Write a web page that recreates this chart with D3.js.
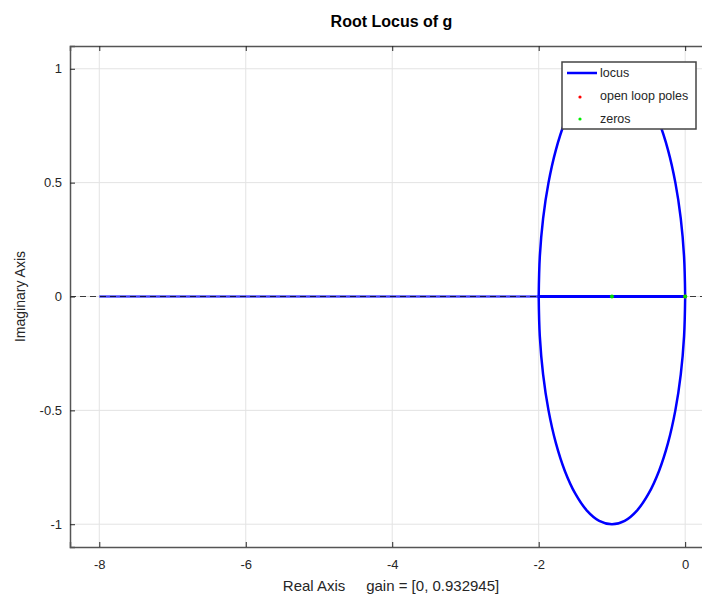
<!DOCTYPE html>
<html>
<head>
<meta charset="utf-8">
<script src="https://cdn.jsdelivr.net/npm/d3@7"></script>
<style>
  body { margin: 0; background: #fff; }
  text { font-family: "Liberation Sans", Arial, sans-serif; }
</style>
</head>
<body>
<svg class="plot" width="702" height="597"></svg>
<script>
// ticks
var xTicks = [-8, -6, -4, -2, 0];
var yTicks = [-1, -0.5, 0, 0.5, 1];

// upper half of the circle branch (re, im)
var arcUpper = [[0,0],[-0.015,0.174],[-0.06,0.342],[-0.134,0.5],[-0.234,0.643],[-0.357,0.766],
    [-0.5,0.866],[-0.658,0.94],[-0.826,0.985],[-1,1],[-1.174,0.985],[-1.342,0.94],[-1.5,0.866],
    [-1.643,0.766],[-1.766,0.643],[-1.866,0.5],[-1.94,0.342],[-1.985,0.174],[-2,0]];
// lower half
var arcLower = [[0,0],[-0.015,-0.174],[-0.06,-0.342],[-0.134,-0.5],[-0.234,-0.643],[-0.357,-0.766],
    [-0.5,-0.866],[-0.658,-0.94],[-0.826,-0.985],[-1,-1],[-1.174,-0.985],[-1.342,-0.94],[-1.5,-0.866],
    [-1.643,-0.766],[-1.766,-0.643],[-1.866,-0.5],[-1.94,-0.342],[-1.985,-0.174],[-2,0]];
// real axis branches
var realFar = [[-8,0],[-2,0]];
var realNear = [[-2,0],[0,0]];

var poles = [[0,0]];
var zeros = [[0,0],[-1,0]];

var legendNames = ["locus", "open loop poles", "zeros"];

var svgWidth = 702,
    svgHeight = 597;
var margin = {top: 46, right: -11, bottom: 50, left: 70};
var width = svgWidth - margin.left - margin.right,
    height = svgHeight - margin.top - margin.bottom;

var xScale = d3.scaleLinear().domain([-8.4, 0.38]).range([0, width]);
var yScale = d3.scaleLinear().domain([-1.1, 1.1]).range([height, 0]);

var svg = d3.select(".plot");
var g = svg.append("g")
    .attr("transform", "translate(" + margin.left + "," + margin.top + ")");

// grid
g.append("g").selectAll("line").data(xTicks).enter().append("line")
    .attr("x1", function(d){ return xScale(d); })
    .attr("x2", function(d){ return xScale(d); })
    .attr("y1", 0).attr("y2", height)
    .attr("stroke", "#e3e3e3").attr("stroke-width", 1);
g.append("g").selectAll("line").data(yTicks).enter().append("line")
    .attr("y1", function(d){ return yScale(d); })
    .attr("y2", function(d){ return yScale(d); })
    .attr("x1", 0).attr("x2", width)
    .attr("stroke", "#e3e3e3").attr("stroke-width", 1);

var line = d3.line()
    .x(function(d){ return xScale(d[0]); })
    .y(function(d){ return yScale(d[1]); });
var curve = d3.line()
    .curve(d3.curveCatmullRom)
    .x(function(d){ return xScale(d[0]); })
    .y(function(d){ return yScale(d[1]); });

// far real branch (lighter)
g.append("path").datum(realFar)
    .attr("d", line)
    .attr("fill", "none")
    .attr("stroke", "#0000ff")
    .attr("stroke-opacity", 0.7)
    .attr("stroke-width", 2.5);

// dashed real axis
g.append("path").datum([[-8.4,0],[0.38,0]])
    .attr("d", line)
    .attr("fill", "none")
    .attr("stroke", "#000")
    .attr("stroke-opacity", 0.75)
    .attr("stroke-width", 1)
    .attr("stroke-dasharray", "6,4");

[arcUpper, arcLower].forEach(function(arc){
    g.append("path").datum(arc)
        .attr("d", curve)
        .attr("fill", "none")
        .attr("stroke", "#0000ff")
        .attr("stroke-width", 2.5);
});
g.append("path").datum(realNear)
    .attr("d", line)
    .attr("fill", "none")
    .attr("stroke", "#0000ff")
    .attr("stroke-width", 3);

g.selectAll(".pole").data(poles).enter().append("circle")
    .attr("class", "pole")
    .attr("cx", function(d){ return xScale(d[0]); })
    .attr("cy", function(d){ return yScale(d[1]); })
    .attr("r", 2).attr("fill", "#ff0000");
g.selectAll(".zero").data(zeros).enter().append("circle")
    .attr("class", "zero")
    .attr("cx", function(d){ return xScale(d[0]); })
    .attr("cy", function(d){ return yScale(d[1]); })
    .attr("r", 2).attr("fill", "#00dd00");

// axes (ticks inside)
var axisColor = "#262626";
var gX = g.append("g")
    .attr("transform", "translate(0," + height + ")")
    .call(d3.axisBottom(xScale).tickValues(xTicks).tickSize(-5).tickPadding(13));
var gXt = g.append("g")
    .call(d3.axisTop(xScale).tickValues(xTicks).tickSize(-5).tickFormat(""));
var gY = g.append("g")
    .call(d3.axisLeft(yScale).tickValues(yTicks).tickSize(-5).tickPadding(8));
[gX, gXt, gY].forEach(function(ax){
    ax.select(".domain").attr("stroke", "#555").attr("stroke-width", 1.5);
    ax.selectAll(".tick line").attr("stroke", axisColor);
    ax.selectAll(".tick text").attr("fill", axisColor)
        .style("font-size", "13px");
});
gX.selectAll(".tick text").text(function(d){ return String(d); });
gY.selectAll(".tick text").text(function(d){ return String(d); });

// title + labels
svg.append("text")
    .attr("x", margin.left + xScale(-4.01)).attr("y", 27)
    .attr("text-anchor", "middle")
    .style("font-size", "16px").style("font-weight", "bold")
    .attr("fill", "#000")
    .text("Root Locus of g");
svg.append("text")
    .attr("x", 391).attr("y", 591)
    .attr("text-anchor", "middle")
    .style("font-size", "15px")
    .attr("fill", axisColor)
    .attr("xml:space", "preserve")
    .text("Real Axis     gain = [0, 0.932945]");
svg.append("text")
    .attr("transform", "translate(25," + (margin.top + yScale(0)) + ") rotate(-90)")
    .attr("text-anchor", "middle")
    .style("font-size", "14px")
    .attr("fill", axisColor)
    .text("Imaginary Axis");

// legend
var legend = svg.append("g").attr("transform", "translate(562,62)");
legend.append("rect")
    .attr("width", 134).attr("height", 67)
    .attr("fill", "#fff").attr("stroke", "#444").attr("stroke-width", 1.5);
legend.append("line")
    .attr("x1", 5).attr("x2", 35).attr("y1", 11).attr("y2", 11)
    .attr("stroke", "#0000ff").attr("stroke-width", 2.5);
legend.append("circle").attr("cx", 18).attr("cy", 35).attr("r", 1.6).attr("fill", "#ff0000");
legend.append("circle").attr("cx", 18).attr("cy", 57).attr("r", 1.6).attr("fill", "#00ee00");
legend.selectAll(".lab").data(legendNames).enter().append("text")
    .attr("x", 38)
    .attr("y", function(d, i){ return 15 + i * 23; })
    .style("font-size", "12.5px")
    .attr("fill", axisColor)
    .text(function(d){ return d; });
</script>
</body>
</html>
